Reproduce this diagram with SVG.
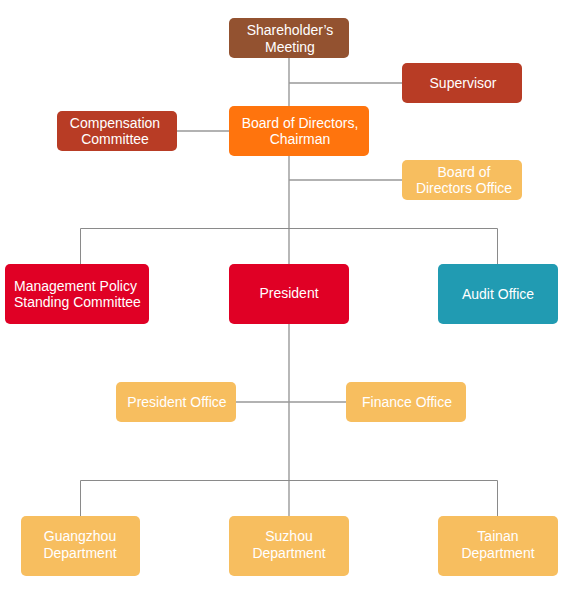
<svg xmlns="http://www.w3.org/2000/svg" width="574" height="600" viewBox="0 0 574 600">
<style>
.t{font-family:"Liberation Sans",Arial,sans-serif;font-size:14px;fill:#ffffff;text-anchor:middle}
.trunk{stroke:#a6a6a6;stroke-width:1.6;fill:none}
.br{stroke:#999999;stroke-width:1.3;fill:none}
.hb{stroke:#8a8a8a;stroke-width:1;fill:none}
</style>
<rect width="574" height="600" fill="#ffffff"/>
<g id="connectors">
<line class="trunk" x1="289" y1="58" x2="289" y2="516"/>
<line class="br" x1="289" y1="83" x2="402" y2="83"/>
<line class="br" x1="177" y1="131" x2="229" y2="131"/>
<line class="br" x1="289" y1="180" x2="402" y2="180"/>
<polyline class="hb" points="80.5,264 80.5,228.5 497.5,228.5 497.5,264"/>
<line class="br" x1="236" y1="402" x2="346" y2="402"/>
<polyline class="hb" points="80.5,516 80.5,480.5 497.5,480.5 497.5,516"/>
</g>
<g id="shareholders">
<rect x="229" y="18" width="120" height="40" rx="5" fill="#935230"/>
<text class="t" x="290" y="35">Shareholder’s</text>
<text class="t" x="290" y="52">Meeting</text>
</g>
<g id="supervisor">
<rect x="402" y="63" width="120" height="40" rx="5" fill="#b83c25"/>
<text class="t" x="463" y="88">Supervisor</text>
</g>
<g id="compensation">
<rect x="57" y="111" width="120" height="40" rx="5" fill="#b83c25"/>
<text class="t" x="115" y="128">Compensation</text>
<text class="t" x="115" y="144">Committee</text>
</g>
<g id="board">
<rect x="229" y="106" width="140" height="50" rx="5" fill="#ff740d"/>
<text class="t" x="300" y="128">Board of Directors,</text>
<text class="t" x="300" y="144">Chairman</text>
</g>
<g id="board-office">
<rect x="402" y="160" width="120" height="40" rx="5" fill="#f7be5f"/>
<text class="t" x="464" y="177">Board of</text>
<text class="t" x="464" y="193">Directors Office</text>
</g>
<g id="management">
<rect x="5" y="264" width="144" height="60" rx="5" fill="#e00025"/>
<text class="t" x="14" y="291" style="text-anchor:start">Management Policy</text>
<text class="t" x="14" y="307" style="text-anchor:start">Standing Committee</text>
</g>
<g id="president">
<rect x="229" y="264" width="120" height="60" rx="5" fill="#e00025"/>
<text class="t" x="289" y="298">President</text>
</g>
<g id="audit">
<rect x="438" y="264" width="120" height="60" rx="5" fill="#219bb2"/>
<text class="t" x="498" y="299">Audit Office</text>
</g>
<g id="president-office">
<rect x="116" y="382" width="120" height="40" rx="5" fill="#f7be5f"/>
<text class="t" x="177" y="407">President Office</text>
</g>
<g id="finance-office">
<rect x="346" y="382" width="120" height="40" rx="5" fill="#f7be5f"/>
<text class="t" x="407" y="407">Finance Office</text>
</g>
<g id="guangzhou">
<rect x="21" y="516" width="119" height="60" rx="5" fill="#f7be5f"/>
<text class="t" x="80" y="541">Guangzhou</text>
<text class="t" x="80" y="558">Department</text>
</g>
<g id="suzhou">
<rect x="229" y="516" width="120" height="60" rx="5" fill="#f7be5f"/>
<text class="t" x="289" y="541">Suzhou</text>
<text class="t" x="289" y="558">Department</text>
</g>
<g id="tainan">
<rect x="438" y="516" width="120" height="60" rx="5" fill="#f7be5f"/>
<text class="t" x="498" y="541">Tainan</text>
<text class="t" x="498" y="558">Department</text>
</g>
</svg>
